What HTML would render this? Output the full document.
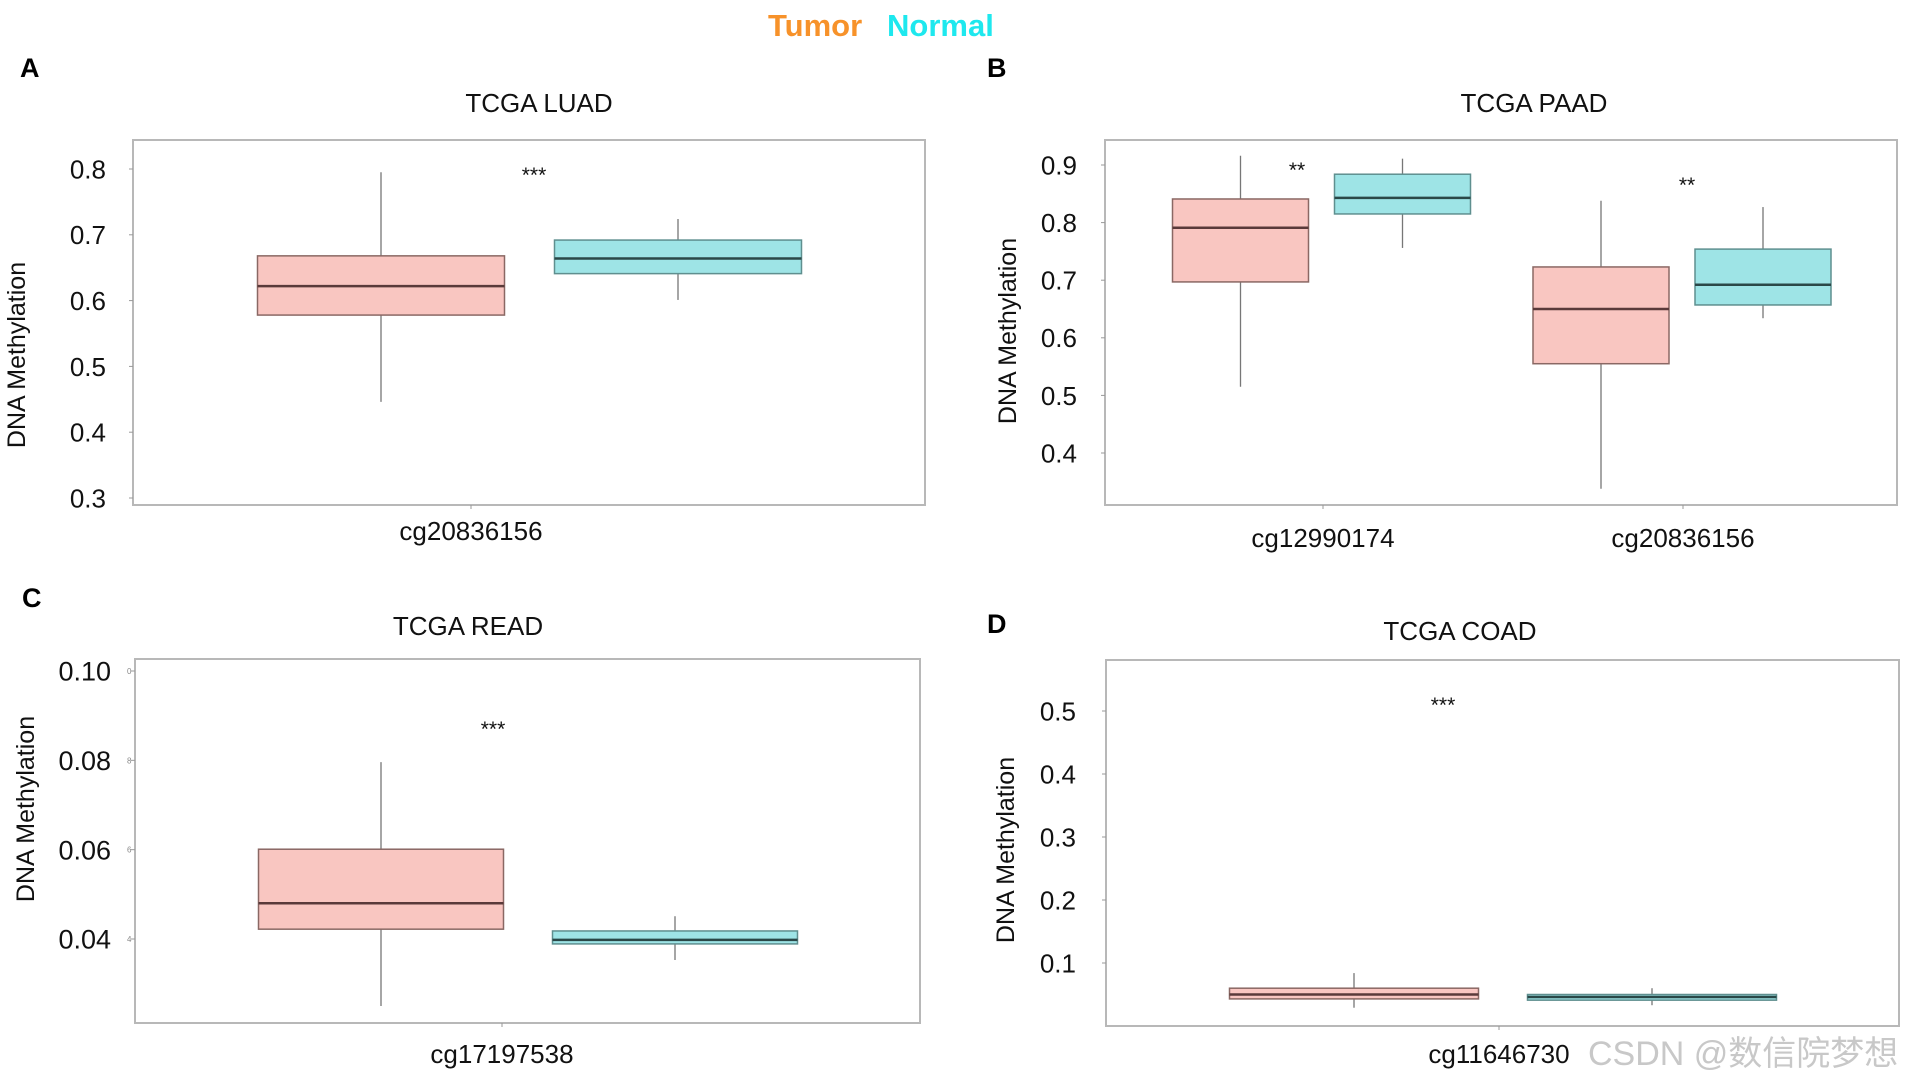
<!DOCTYPE html>
<html><head><meta charset="utf-8"><style>
html,body{margin:0;padding:0;background:#fff;}
svg{display:block;}
.nar{font-family:"Liberation Sans Narrow","Liberation Sans",sans-serif;}
.sans{font-family:"Liberation Sans",sans-serif;}
</style></head><body>
<svg id="fig" width="1918" height="1083" viewBox="0 0 1918 1083" xmlns="http://www.w3.org/2000/svg">
<g>
<text x="768" y="36" font-size="31" font-weight="bold" fill="#f7922a" class="nar">Tumor</text>
<text x="887" y="36" font-size="31" font-weight="bold" fill="#1ee8ee" class="nar">Normal</text>
</g>
<text x="1588" y="1065" font-size="34" fill="#c8c8c8" font-family="Liberation Sans Narrow, Liberation Sans, Noto Sans CJK SC, sans-serif">CSDN @数信院梦想</text>
</svg>
<script>
// ---- Panel A: TCGA LUAD ----
const aCategories = ["cg20836156"];
const aTumor = [[0.446, 0.578, 0.622, 0.668, 0.795]];
const aNormal = [[0.601, 0.641, 0.664, 0.692, 0.724]];
const aTicks = ["0.3","0.4","0.5","0.6","0.7","0.8"];
const aSig = ["***"];
// ---- Panel B: TCGA PAAD ----
const bCategories = ["cg12990174","cg20836156"];
const bTumor = [[0.515, 0.697, 0.791, 0.841, 0.916],[0.338, 0.555, 0.650, 0.723, 0.838]];
const bNormal = [[0.756, 0.815, 0.843, 0.884, 0.911],[0.634, 0.657, 0.692, 0.754, 0.827]];
const bTicks = ["0.4","0.5","0.6","0.7","0.8","0.9"];
const bSig = ["**","**"];
// ---- Panel C: TCGA READ ----
const cCategories = ["cg17197538"];
const cTumor = [[0.025, 0.0422, 0.048, 0.0601, 0.0796]];
const cNormal = [[0.0353, 0.0389, 0.0398, 0.0418, 0.0451]];
const cTicks = ["0.04","0.06","0.08","0.10"];
const cSig = ["***"];
// ---- Panel D: TCGA COAD ----
const dCategories = ["cg11646730"];
const dTumor = [[0.029, 0.043, 0.050, 0.060, 0.084]];
const dNormal = [[0.033, 0.041, 0.046, 0.050, 0.060]];
const dTicks = ["0.1","0.2","0.3","0.4","0.5"];
const dSig = ["***"];

const NS="http://www.w3.org/2000/svg";
const svg=document.getElementById('fig');
function mk(tag,attrs,parent,txt){const e=document.createElementNS(NS,tag);for(const k in attrs)e.setAttribute(k,attrs[k]);if(txt!==undefined)e.textContent=txt;(parent||svg).appendChild(e);return e;}

function panel(cfg){
  const g=mk('g',{});
  
  
  const y=v=>cfg.y0px+(v-cfg.y0v)*(cfg.y1px-cfg.y0px)/(cfg.y1v-cfg.y0v);
  const L=mk('text',{x:cfg.letterX,y:cfg.letterY,'font-size':27,'font-weight':'bold',class:'sans',fill:'#000'},g,cfg.letter);
  
  
  const T=mk('text',{x:cfg.titleX,y:cfg.titleY,'font-size':26,class:'nar','text-anchor':'middle',fill:'#111'},g,cfg.title);
  
  
  const F=mk('rect',{x:cfg.fx0,y:cfg.fy0,width:cfg.fx1-cfg.fx0,height:cfg.fy1-cfg.fy0,fill:'none',stroke:'#b8b8b8','stroke-width':2},g);
  
  
  const YT=mk('text',{transform:`translate(${cfg.ytX},${cfg.ytY}) rotate(-90)`,'font-size':25,class:'sans','text-anchor':'middle',fill:'#111'},g,'DNA Methylation');
  
  
  cfg.ticks.forEach(t=>{
    const py=y(parseFloat(t));
    const tk=mk('line',{x1:cfg.fx0-4,x2:cfg.fx0,y1:py,y2:py,stroke:'#999','stroke-width':1},g);
    
    
    const tl=mk('text',{x:cfg.tlX,y:py+cfg.tickFs*0.36,'font-size':cfg.tickFs,class:'nar','text-anchor':'end',fill:'#111'},g,t);
    
    
    if(cfg.smallTicks){
      const st=mk('text',{x:cfg.fx0-8,y:py+3,'font-size':8,class:'nar',fill:'#888'},g,t.slice(-1));
      
      
    }
  });
  cfg.cats.forEach((c,i)=>{
    const cx=cfg.catX[i];
    const lx=cfg.labelX[i];
    const xt=mk('line',{x1:lx,x2:lx,y1:cfg.fy1,y2:cfg.fy1+4,stroke:'#999'},g);
    
    
    const xl=mk('text',{x:lx,y:cfg.xlY,'font-size':26,class:'nar','text-anchor':'middle',fill:'#111'},g,c);
    
    
    [[cfg.tumor[i],-1,'#f9c6c1','#8a6864','#5a3a3a','tumor'],[cfg.normal[i],1,'#9ee4e6','#5f8f8f','#2a4848','normal']].forEach(([d,side,fill,st,med,nm])=>{
      const bx=cx+side*cfg.off;
      const w=cfg.bw;
      const bg=mk('g',{},g);
      
      
      mk('line',{x1:bx,x2:bx,y1:y(d[4]),y2:y(d[0]),stroke:'#777','stroke-width':1.3},bg);
      mk('rect',{x:bx-w/2,y:y(d[3]),width:w,height:Math.max(1,y(d[1])-y(d[3])),fill:fill,stroke:st,'stroke-width':1.5},bg);
      mk('line',{x1:bx-w/2,x2:bx+w/2,y1:y(d[2]),y2:y(d[2]),stroke:med,'stroke-width':2.5},bg);
    });
    const sg=mk('text',{x:cfg.sigX[i],y:cfg.sigY[i]+10,'font-size':21,class:'nar','text-anchor':'middle',fill:'#111'},g,cfg.sig[i]);
    
    
  });
}
panel({letter:'A',letterX:20,letterY:77,title:'TCGA LUAD',titleX:539,titleY:112,fx0:133,fy0:140,fx1:925,fy1:505,
  y0v:0.8,y0px:169,y1v:0.3,y1px:498,ticks:aTicks,tickFs:26,tlX:106,ytX:25,ytY:355,
  cats:aCategories,catX:[529.5],labelX:[471],off:148.5,bw:247,tumor:aTumor,normal:aNormal,sig:aSig,sigX:[534],sigY:[172],xlY:540});
panel({letter:'B',letterX:987,letterY:77,title:'TCGA PAAD',titleX:1534,titleY:112,fx0:1105,fy0:140,fx1:1897,fy1:505,
  y0v:0.9,y0px:165,y1v:0.4,y1px:453,ticks:bTicks,tickFs:26,tlX:1077,ytX:1016,ytY:331,
  cats:bCategories,catX:[1321.5,1682],labelX:[1323,1683],off:81,bw:136,tumor:bTumor,normal:bNormal,sig:bSig,sigX:[1297,1687],sigY:[167,182],xlY:547});
panel({letter:'C',letterX:22,letterY:607,title:'TCGA READ',titleX:468,titleY:635,fx0:135,fy0:659,fx1:920,fy1:1023,
  y0v:0.10,y0px:671,y1v:0.04,y1px:939,ticks:cTicks,tickFs:27,tlX:111,ytX:34,ytY:809,smallTicks:true,
  cats:cCategories,catX:[528],labelX:[502],off:147,bw:245,tumor:cTumor,normal:cNormal,sig:cSig,sigX:[493],sigY:[726],xlY:1063});
panel({letter:'D',letterX:987,letterY:633,title:'TCGA COAD',titleX:1460,titleY:640,fx0:1106,fy0:660,fx1:1899,fy1:1026,
  y0v:0.5,y0px:711,y1v:0.1,y1px:963,ticks:dTicks,tickFs:26,tlX:1076,ytX:1014,ytY:850,
  cats:dCategories,catX:[1503],labelX:[1499],off:149,bw:249,tumor:dTumor,normal:dNormal,sig:dSig,sigX:[1443],sigY:[702],xlY:1063});
</script>
</body></html>
